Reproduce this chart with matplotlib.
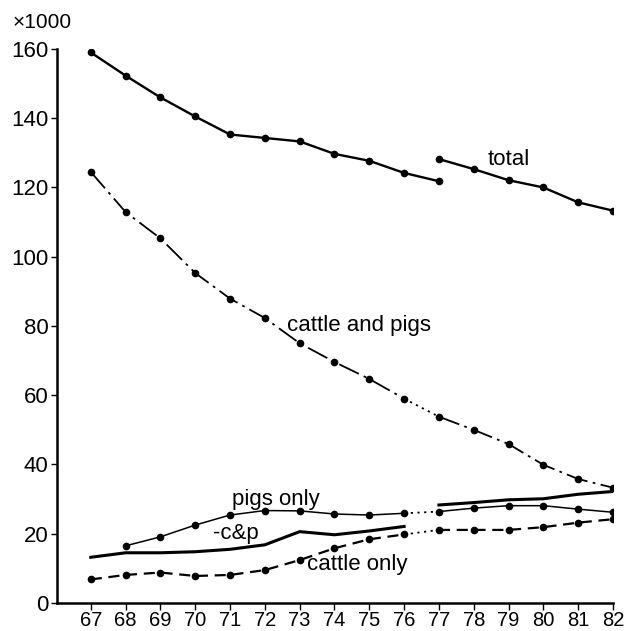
import matplotlib
matplotlib.use("Agg")
import matplotlib.pyplot as plt

plt.rcParams['font.family'] = ['Liberation Sans', 'DejaVu Sans']

# years 67..82, values x1000
years_a = [67, 68, 69, 70, 71, 72, 73, 74, 75, 76, 77]
years_b = [77, 78, 79, 80, 81, 82]

total_a = [159.0, 152.3, 146.0, 140.5, 135.3, 134.3, 133.3, 129.7, 127.7, 124.2, 121.8]
total_b = [128.2, 125.3, 122.1, 120.0, 115.7, 113.3]

cp_years = list(range(67, 83))
cattle_pigs = [124.5, 112.9, 105.3, 95.3, 87.9, 82.3, 75.0, 69.6, 64.7, 59.0,
               53.8, 50.0, 45.9, 39.9, 35.8, 33.3]

pigs_years = list(range(68, 83))
pigs_only = [16.5, 19.1, 22.5, 25.4, 26.7, 26.6, 25.7, 25.4, 25.9,
             26.4, 27.4, 28.1, 28.1, 27.1, 26.2]

cnp_years_a = [67, 68, 69, 70, 71, 72, 73, 74, 75, 76]
cnp_a = [13.2, 14.5, 14.5, 14.8, 15.5, 16.8, 20.6, 19.7, 20.8, 22.1]
cnp_years_b = [77, 78, 79, 80, 81, 82]
cnp_b = [28.3, 29.0, 29.8, 30.1, 31.4, 32.2]

cattle_years = list(range(67, 83))
cattle_only = [6.8, 8.1, 8.8, 7.8, 8.1, 9.5, 12.4, 15.8, 18.4, 19.8,
               21.1, 21.1, 21.1, 21.9, 23.2, 24.2]

fig = plt.figure(figsize=(6.34, 6.31), dpi=100)
ax = fig.add_axes([0.0899, 0.0444, 0.877, 0.878])

k = 'black'
ms = 4.5
dashdot = (0, (12, 3, 1.5, 3))
dotted = (0, (1.2, 2.5))

# total, broken at 77
ax.plot(years_a, total_a, color=k, lw=1.7, marker='o', ms=ms)
ax.plot(years_b, total_b, color=k, lw=1.7, marker='o', ms=ms)

# cattle and pigs: dash-dot, dotted between 76 and 77
i76 = cp_years.index(76)
ax.plot(cp_years[:i76 + 1], cattle_pigs[:i76 + 1], color=k, lw=1.3,
        linestyle=dashdot, marker='o', ms=ms)
ax.plot(cp_years[i76:i76 + 2], cattle_pigs[i76:i76 + 2], color=k, lw=1.3,
        linestyle=dotted)
ax.plot(cp_years[i76 + 1:], cattle_pigs[i76 + 1:], color=k, lw=1.3,
        linestyle=dashdot, marker='o', ms=ms)

# pigs only: thin solid, dotted between 76 and 77
j76 = pigs_years.index(76)
ax.plot(pigs_years[:j76 + 1], pigs_only[:j76 + 1], color=k, lw=1.1, marker='o', ms=ms)
ax.plot(pigs_years[j76:j76 + 2], pigs_only[j76:j76 + 2], color=k, lw=1.3,
        linestyle=dotted)
ax.plot(pigs_years[j76 + 1:], pigs_only[j76 + 1:], color=k, lw=1.1, marker='o', ms=ms)

# c&p: thick solid, no markers, gap at 76-77
ax.plot(cnp_years_a, cnp_a, color=k, lw=2.2)
ax.plot(cnp_years_b, cnp_b, color=k, lw=2.2)

# cattle only: dashed, dotted between 76 and 77
c76 = cattle_years.index(76)
ax.plot(cattle_years[:c76 + 1], cattle_only[:c76 + 1], color=k, lw=1.6,
        linestyle=(0, (5, 3)), marker='o', ms=ms)
ax.plot(cattle_years[c76:c76 + 2], cattle_only[c76:c76 + 2], color=k, lw=1.3,
        linestyle=dotted)
ax.plot(cattle_years[c76 + 1:], cattle_only[c76 + 1:], color=k, lw=1.6,
        linestyle=(0, (5, 3)), marker='o', ms=ms)

fs = 16
ax.text(79.0, 128.0, 'total', fontsize=fs, ha='center', va='center')
ax.text(72.63, 80.0, 'cattle and pigs', fontsize=fs, ha='left', va='center')
ax.text(71.05, 29.8, 'pigs only', fontsize=fs, ha='left', va='center')
ax.text(70.5, 20.2, '-c&p', fontsize=fs, ha='left', va='center')
ax.text(73.2, 11.0, 'cattle only', fontsize=fs, ha='left', va='center')

fig.text(13 / 634, 1 - 22 / 631, '×1000', fontsize=15, ha='left', va='center')

ax.set_xlim(66.03, 82)
ax.set_ylim(0, 160)
ax.set_xticks(cp_years)
ax.set_xticklabels([str(y) for y in cp_years])
ax.set_yticks(range(0, 161, 20))

for s in ['top', 'right']:
    ax.spines[s].set_visible(False)
ax.spines['left'].set_linewidth(1.8)
ax.spines['bottom'].set_linewidth(1.8)
ax.spines['bottom'].set_bounds(66.03, 82)
ax.tick_params(axis='both', width=1.0, direction='out')
ax.tick_params(axis='y', length=4, pad=2, labelsize=fs)
ax.tick_params(axis='x', length=5, pad=0.5, labelsize=14.5)

fig.savefig('out.png', dpi=100)
